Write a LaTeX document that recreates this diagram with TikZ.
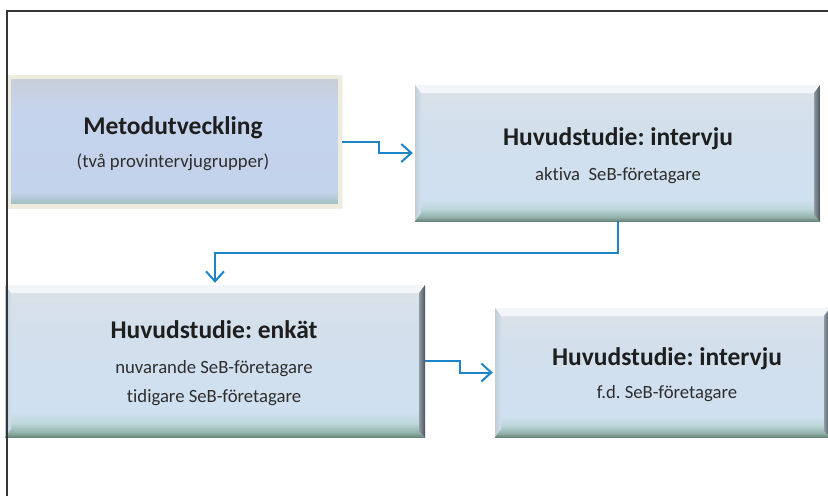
\documentclass[tikz,border=0pt]{standalone}
\usepackage{fontspec}
\setmainfont{Carlito}[Ligatures=NoCommon]
\usetikzlibrary{arrows.meta}
\frenchspacing
\definecolor{frameC}{HTML}{353535}
\definecolor{arrC}{HTML}{1F84C6}
\definecolor{creamC}{HTML}{EEEBDF}
\definecolor{txtC}{HTML}{1E1E1E}
\definecolor{subC}{HTML}{2E2E2E}
\definecolor{aA}{HTML}{85A395}
\definecolor{aB}{HTML}{A6C2C4}
\definecolor{aC}{HTML}{C3D3EB}
\definecolor{aD}{HTML}{C5D4EC}
\definecolor{aE}{HTML}{C9CED6}
\definecolor{bA}{HTML}{6B877C}
\definecolor{bB}{HTML}{93B2AB}
\definecolor{bC}{HTML}{BDD7DA}
\definecolor{bD}{HTML}{CFE0F0}
\definecolor{bE}{HTML}{D3E0EC}
\definecolor{bF}{HTML}{DCE1E7}
\definecolor{topBev}{HTML}{F3F6F9}
\definecolor{rightBevA}{HTML}{4A545C}
\definecolor{rightBevB}{HTML}{909BA4}
\definecolor{leftBev}{HTML}{C4CDD7}
\pgfdeclareverticalshading{metoshade}{100bp}{color(0bp)=(aA); color(25bp)=(aA); color(27bp)=(aB); color(31bp)=(aC); color(62bp)=(aD); color(75bp)=(aE); color(100bp)=(aE)}
\pgfdeclareverticalshading{bevshade}{100bp}{color(0bp)=(bA); color(25bp)=(bA); color(26.5bp)=(bB); color(29.5bp)=(bC); color(33bp)=(bD); color(62bp)=(bE); color(75bp)=(bF); color(100bp)=(bF)}
\tikzset{
  x=1pt, y=-1pt,
  metobox/.style={rectangle, inner sep=0pt, draw=none, shading=metoshade,
    path picture={
      \draw[creamC, line width=8pt] (path picture bounding box.north west) rectangle (path picture bounding box.south east);
    }},
  bevbox/.style={rectangle, inner sep=0pt, draw=none, shading=bevshade,
    path picture={
      \coordinate (nw) at (path picture bounding box.north west);
      \coordinate (ne) at (path picture bounding box.north east);
      \coordinate (sw) at (path picture bounding box.south west);
      \coordinate (se) at (path picture bounding box.south east);
      \fill[topBev] (nw) -- (ne) -- ([xshift=-6pt,yshift=-8pt]ne) -- ([xshift=6pt,yshift=-8pt]nw) -- cycle;
      \shade[left color=leftBev, right color=bD] (nw) -- ([xshift=6pt,yshift=-8pt]nw) -- ([xshift=6pt,yshift=8pt]sw) -- (sw) -- cycle;
      \shade[left color=rightBevB, right color=rightBevA] (ne) -- ([xshift=-6pt,yshift=-8pt]ne) -- ([xshift=-6pt,yshift=6pt]se) -- (se) -- cycle;
    }},
  titletxt/.style={anchor=base, inner sep=0pt, font=\bfseries\fontsize{25.5}{30}\selectfont, text=txtC},
  subtxt/.style={anchor=base, inner sep=0pt, font=\fontsize{18.7}{22}\selectfont, text=subC},
  flow/.style={draw=arrC, line width=2pt, -{Straight Barb[length=10pt,width=18pt,line width=2pt]}, shorten >=2pt},
  framel/.style={draw=frameC, line width=2.2pt}
}
\begin{document}
\begin{tikzpicture}
\useasboundingbox (0,0) rectangle (828,496);
\fill[white] (0,0) rectangle (828,496);

% boxes
\node[metobox, minimum width=335pt, minimum height=133pt] (meto) at (174.5,141.5) {};
\node[bevbox, minimum width=405pt, minimum height=136pt] (intv1) at (617.5,153) {};
\node[bevbox, minimum width=420pt, minimum height=152pt] (enk) at (215,361) {};
\node[bevbox, minimum width=335pt, minimum height=129pt] (intv2) at (662.5,372.5) {};

% texts
\node[titletxt] (metoT) at (173,134) {Metodutveckling};
\node[subtxt] (metoS) at (173,167) {(två provintervjugrupper)};
\node[titletxt] (intv1T) at (618,145) {Huvudstudie: intervju};
\node[subtxt] (intv1S) at (618,180) {aktiva\ \ SeB-företagare};
\node[titletxt] (enkT) at (214,338) {Huvudstudie: enkät};
\node[subtxt] (enkS1) at (214,373) {nuvarande SeB-företagare};
\node[subtxt] (enkS2) at (214,402) {tidigare SeB-företagare};
\node[titletxt] (intv2T) at (667,365) {Huvudstudie: intervju};
\node[subtxt] (intv2S) at (667,398) {f.d. SeB-företagare};

% connectors
\draw[flow] (meto.east) -- ++(37,0) |- (intv1.west);
\draw[flow] (intv1.south) -- ++(0,32) -| (enk.north);
\draw[flow] (enk.east) -- ++(35,0) |- (intv2.west);

% frame
\coordinate (fTL) at (7,11);
\coordinate (fBL) at (7,496);
\coordinate (fTR) at (828,11);
\draw[framel] (fBL) -- (fTL) -- (fTR);
\end{tikzpicture}
\end{document}
